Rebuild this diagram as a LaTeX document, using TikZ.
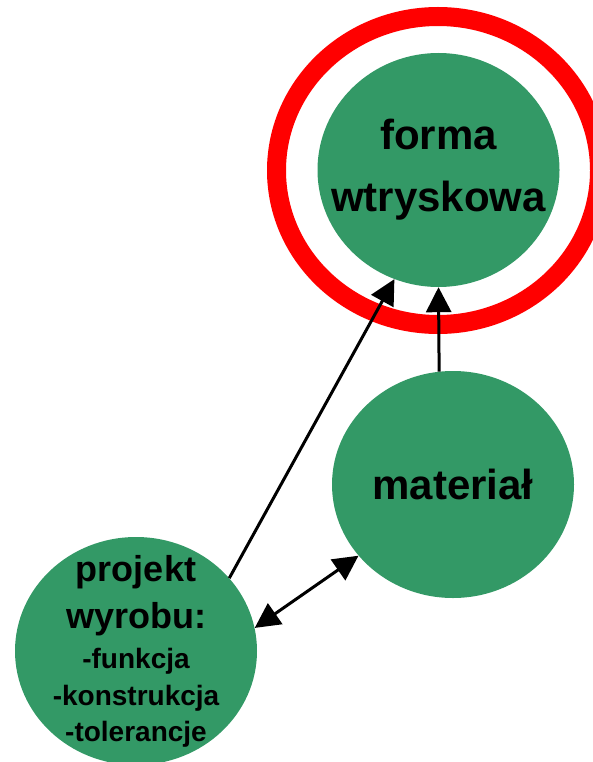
\documentclass[tikz,border=0pt]{standalone}
\usepackage{fontspec}
\setmainfont{Liberation Sans}
\usetikzlibrary{arrows.meta,shapes.geometric}
\definecolor{zielen}{RGB}{51,153,102}

\begin{document}
\begin{tikzpicture}[x=1pt,y=-1pt,
	kolo/.style={ellipse,fill=zielen,inner sep=0pt,minimum width=242pt},
	duzy/.style={align=center,font=\bfseries\fontsize{42}{62}\selectfont},
	maly/.style={align=center,font=\bfseries\fontsize{28}{36}\selectfont},
	strz/.style={line width=3pt,-{Triangle[length=25pt,width=25pt]}},
	strz2/.style={line width=3pt,{Triangle[length=25pt,width=25pt]}-{Triangle[length=25pt,width=25pt]}}]
	\useasboundingbox (0,0) rectangle (593,762);
	\node[ellipse,draw=red,line width=19pt,minimum width=323pt,minimum height=308pt,inner sep=0pt] (ring) at (438,170.5) {};
	\node[kolo,minimum height=234pt] (forma) at (438.5,170) {};
	\node[kolo,minimum height=227pt] (mat) at (453,484.5) {};
	\node[kolo,minimum height=228pt] (proj) at (136,651) {};
	\node[duzy] (tforma) at (forma.center) {forma\\wtryskowa};
	\node[duzy] (tmat) at (mat.center) {materiał};
	\node[maly] (tproj) at (proj.center)
		{{\fontsize{36}{47}\selectfont projekt}\\[11pt] {\fontsize{36}{47}\selectfont wyrobu:}\\[4pt]
		 -funkcja\\[1pt] -konstrukcja\\ -tolerancje};
	\draw[strz] (proj.38.5) -- (forma.248);
	\draw[strz] (mat.97.6) -- (forma.south);
	\draw[strz2] (proj.11) -- (mat.217);
\end{tikzpicture}
\end{document}
